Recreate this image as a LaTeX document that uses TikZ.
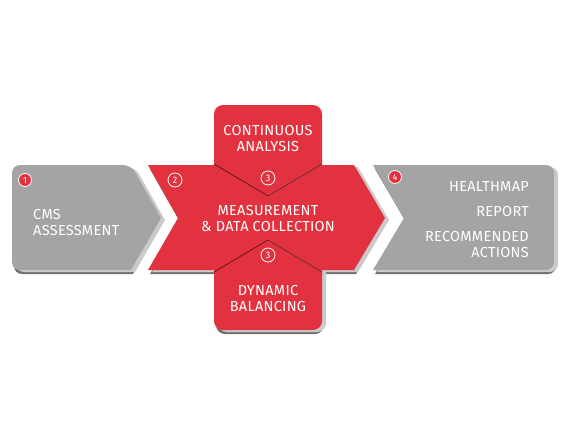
\documentclass[tikz,border=0pt]{standalone}
\usepackage{fontspec}
\setmainfont{Fira Sans}[LetterSpace=2]
\usepackage{tikz}
\usetikzlibrary{positioning}
\definecolor{cmsred}{HTML}{E2323F}
\definecolor{cmsgray}{HTML}{A4A4A4}
\definecolor{cmsbevel}{HTML}{CACACA}
\definecolor{cmsshadow}{HTML}{707070}
\tikzset{
    graybox/.style={fill=cmsgray},
    redbox/.style={fill=cmsred},
    bevel/.style={fill=cmsbevel,shift={(4,2)}},
    dropshade/.style={fill=cmsshadow,shift={(2,4)}},
    lbl/.style={text=white,font=\fontsize{14.5}{16}\selectfont,inner sep=0pt},
    numfill/.style={circle,fill=cmsred,draw=white,line width=0.8pt,text=white,
        inner sep=0pt,minimum size=13pt,font=\fontsize{9}{9}\selectfont},
    numring/.style={circle,draw=white,line width=0.8pt,text=white,
        inner sep=0pt,minimum size=14pt,font=\fontsize{9.5}{9.5}\selectfont},
    seam/.style={draw=black!55!cmsred,line width=0.8pt},
    seamlight/.style={draw=cmsred!55!white,line width=0.8pt,shift={(0,1.2)}}
}
\newcommand{\cmsleft}{(12,218) [rounded corners=8pt] -- (12,165) -- (131,165) [sharp corners] -- (161,218) -- (131,270) [rounded corners=8pt] -- (12,270) -- cycle}
\newcommand{\cmsmid}{(148,165) -- (354,165) -- (385,218) -- (354,270) -- (148,270) -- (178,218) -- cycle}
\newcommand{\cmsdown}{(214,268) [rounded corners=9pt] -- (214,330) -- (322,330) [sharp corners] -- (322,268) -- cycle}
\newcommand{\cmsright}{(373,165) [sharp corners] -- (404,218) -- (373,270) [rounded corners=8pt] -- (554,270) -- (554,165) [sharp corners] -- cycle}
\begin{document}
\begin{tikzpicture}[x=1pt,y=-1pt]
    \useasboundingbox (0,0) rectangle (565,424);
    \fill[dropshade] \cmsleft;
    \fill[bevel] \cmsleft;
    \fill[graybox] \cmsleft;
    \fill[dropshade] \cmsmid;
    \fill[bevel] \cmsmid;
    \fill[dropshade] \cmsdown;
    \fill[bevel] \cmsdown;
    \fill[redbox] \cmsmid;
    \fill[redbox] (214,165) [rounded corners=9pt] -- (214,105) -- (322,105) [sharp corners] -- (322,165) -- cycle;
    \fill[redbox] \cmsdown;
    \fill[dropshade] \cmsright;
    \fill[bevel] \cmsright;
    \fill[graybox] \cmsright;
    \coordinate (tl) at (214,164);
    \coordinate (tv) at (268,196);
    \coordinate (tr) at (322,164);
    \coordinate (bl) at (214,272);
    \coordinate (bv) at (268,240);
    \coordinate (br) at (322,272);
    \draw[seamlight] (tv) -- (tr);
    \draw[seamlight] (bv) -- (br);
    \draw[seam] (tl) -- (tv) -- (tr);
    \draw[seam] (bl) -- (bv) -- (br);
    \node[numfill] (one) at (25,180) {1};
    \node[numring] (two) at (175,180) {2};
    \node[numring] (threetop) at (268,178) {3};
    \node[numring] (threebot) at (268,255) {3};
    \node[numfill] (four) at (395,177) {4};
    \node[lbl,align=left,anchor=west] (cms) at (33,222) {CMS\\ASSESSMENT};
    \node[lbl,align=center] (analysis) at (268,138) {CONTINUOUS\\ANALYSIS};
    \node[lbl,align=center] (measure) at (268,218) {MEASUREMENT\\\& DATA COLLECTION};
    \node[lbl,align=center] (balance) at (268,298) {DYNAMIC\\BALANCING};
    \node[lbl,anchor=east] (health) at (529,186) {HEALTHMAP};
    \node[lbl,anchor=east] (report) at (529,211) {REPORT};
    \node[lbl,align=right,anchor=east] (actions) at (529,244) {RECOMMENDED\\ACTIONS};
\end{tikzpicture}
\end{document}
